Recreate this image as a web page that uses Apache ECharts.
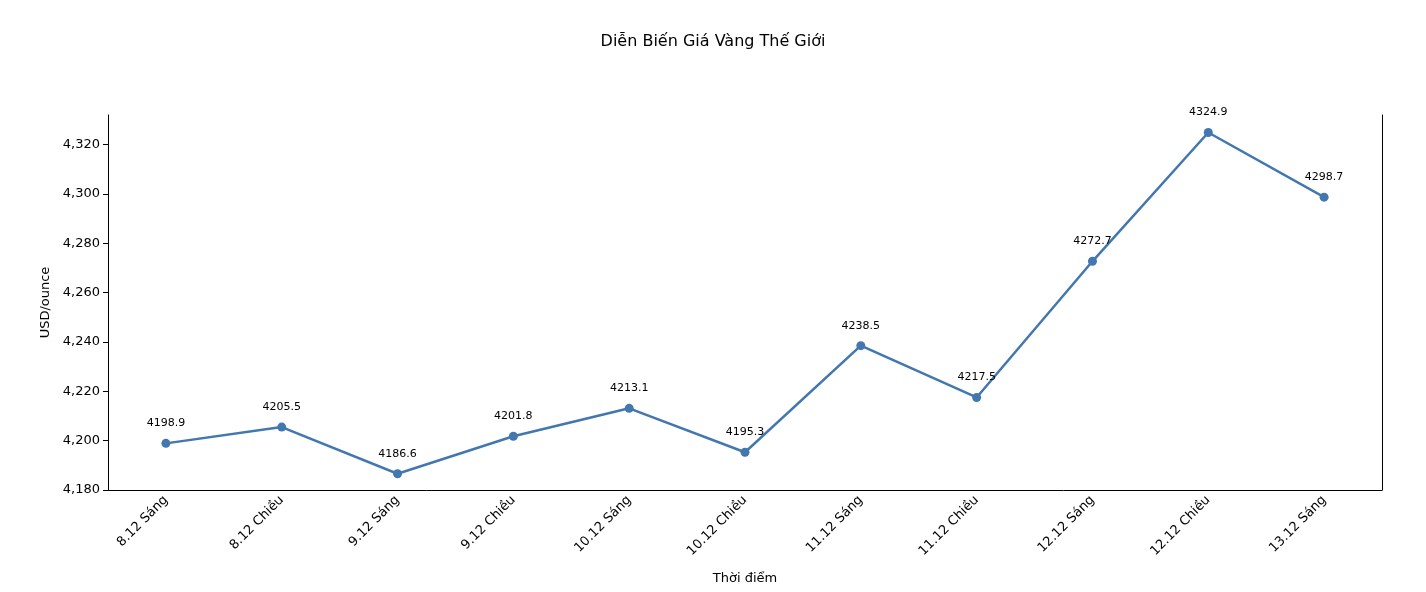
<!DOCTYPE html>
<html><head><meta charset="utf-8">
<script src="https://cdn.jsdelivr.net/npm/echarts@6/dist/echarts.min.js"></script>
<style>html,body{margin:0;padding:0;background:#fff}#c{width:1426px;height:592px}</style>
</head><body><div id="c"></div>
<script>
const categories = ["8.12 Sáng","8.12 Chiều","9.12 Sáng","9.12 Chiều","10.12 Sáng","10.12 Chiều","11.12 Sáng","11.12 Chiều","12.12 Sáng","12.12 Chiều","13.12 Sáng"];
const prices = [4198.9,4205.5,4186.6,4201.8,4213.1,4195.3,4238.5,4217.5,4272.7,4324.9,4298.7];
const font = "DejaVu Sans";
const chart = echarts.init(document.getElementById('c'));
chart.setOption({
  animation:false,
  textStyle:{fontFamily:font},
  title:{text:"Diễn Biến Giá Vàng Thế Giới",left:'center',top:29,textStyle:{fontFamily:font,fontSize:16,fontWeight:'normal',color:'#000'}},
  grid:{left:108,right:44,top:115,bottom:102},
  xAxis:{type:'category',data:categories,boundaryGap:true,
    name:"Thời điểm",nameLocation:'middle',nameGap:82,nameTextStyle:{fontFamily:font,fontSize:13,color:'#000'},
    axisLine:{lineStyle:{color:'#000'}},axisTick:{alignWithLabel:true,lineStyle:{color:'#000'}},
    axisLabel:{rotate:45,color:'#000',fontSize:13,fontFamily:font,interval:0}},
  yAxis:[{type:'value',min:4180,max:4332,interval:20,
    name:"USD/ounce",nameLocation:'middle',nameGap:52,nameTextStyle:{fontFamily:font,fontSize:13,color:'#000'},
    axisLine:{show:true,lineStyle:{color:'#000'}},axisTick:{show:true,lineStyle:{color:'#000'}},
    axisLabel:{color:'#000',fontSize:13,fontFamily:font,showMaxLabel:false},splitLine:{show:false}},
    {type:'value',min:4180,max:4332,position:'right',axisLine:{show:true,lineStyle:{color:'#000'}},
    axisTick:{show:false},axisLabel:{show:false},splitLine:{show:false}}],
  series:[{type:'line',data:prices,symbol:'circle',symbolSize:9,
    lineStyle:{color:'#4277b0',width:2.5},itemStyle:{color:'#4277b0'},
    label:{show:true,position:'top',distance:10,color:'#000',fontSize:11,fontFamily:font}}]
});
</script></body></html>
